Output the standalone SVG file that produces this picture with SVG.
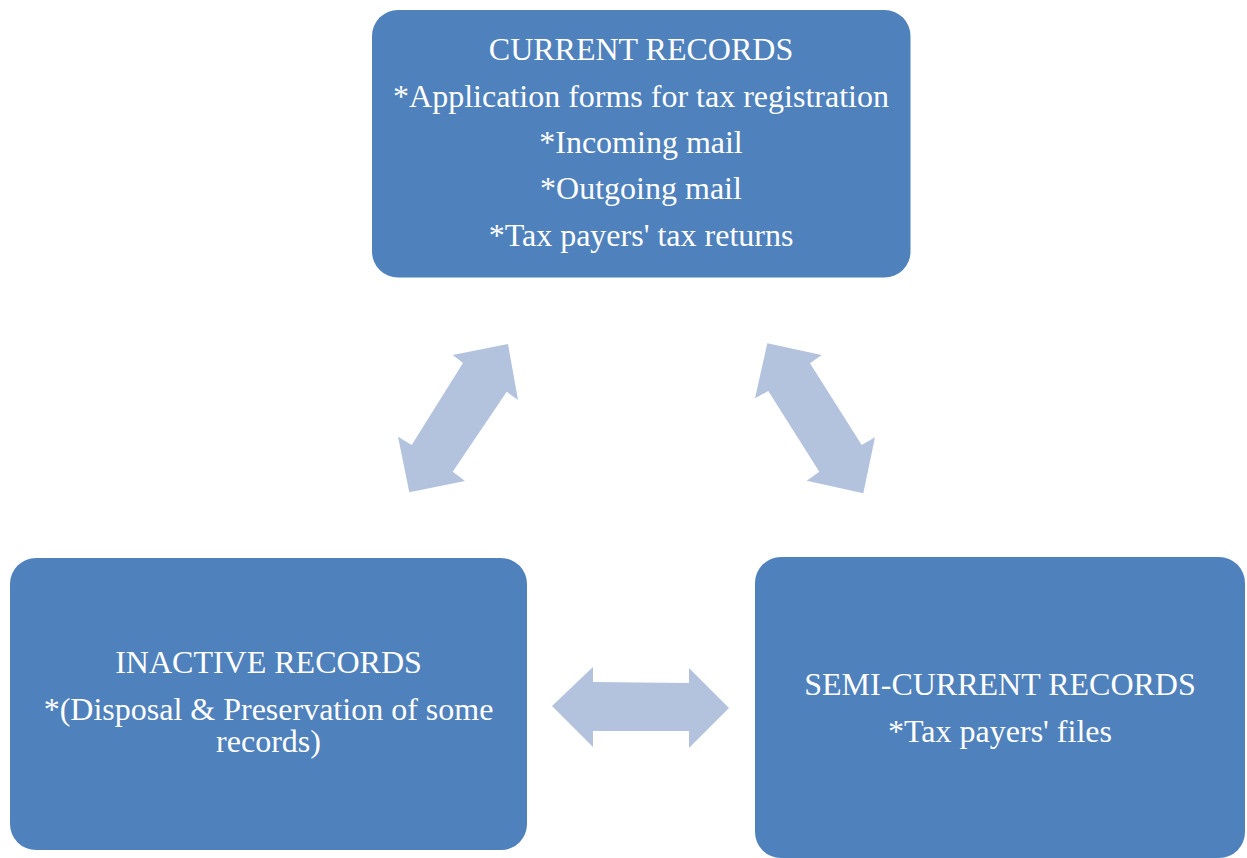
<svg xmlns="http://www.w3.org/2000/svg" width="1247" height="858" viewBox="0 0 1247 858">
<style>
.box{fill:#4F81BD;}
.arr{fill:#B3C3DE;}
.t{font-family:"Liberation Serif","Times New Roman",serif;font-size:32px;fill:#FFFFFF;text-anchor:middle;}
</style>
<rect width="1247" height="858" fill="#FFFFFF"/>
<g id="connectors">
<polygon class="arr" points="508,344 518,400 506.7,391.7 452.7,471.7 465,481 409.3,492.3 398,436.7 411.7,445 463,363 452.7,355"/>
<polygon class="arr" points="767.3,343.3 821.7,355 810,363.3 861.7,445 875,437.3 863.3,493.3 806.7,480.7 819.3,471.7 768.3,391 755,398.3"/>
<polygon class="arr" points="552,706 593,667 593,682 689,683 689,668 729,708 689,748 689,731 593,731 593,747"/>
</g>
<g id="current">
<rect class="box" x="372" y="10" width="538.5" height="267.5" rx="26" ry="26"/>
<text class="t" x="641" y="60">CURRENT RECORDS</text>
<text class="t" x="641" y="107">*Application forms for tax registration</text>
<text class="t" x="641" y="153">*Incoming mail</text>
<text class="t" x="641" y="199">*Outgoing mail</text>
<text class="t" x="641" y="246">*Tax payers' tax returns</text>
</g>
<g id="inactive">
<rect class="box" x="10" y="558" width="517" height="292" rx="26" ry="26"/>
<text class="t" x="268.5" y="673">INACTIVE RECORDS</text>
<text class="t" x="268.5" y="720">*(Disposal &amp; Preservation of some</text>
<text class="t" x="268.5" y="752">records)</text>
</g>
<g id="semicurrent">
<rect class="box" x="755" y="557" width="490" height="301" rx="26" ry="26"/>
<text class="t" x="1000" y="695">SEMI-CURRENT RECORDS</text>
<text class="t" x="1000" y="742">*Tax payers' files</text>
</g>
</svg>
